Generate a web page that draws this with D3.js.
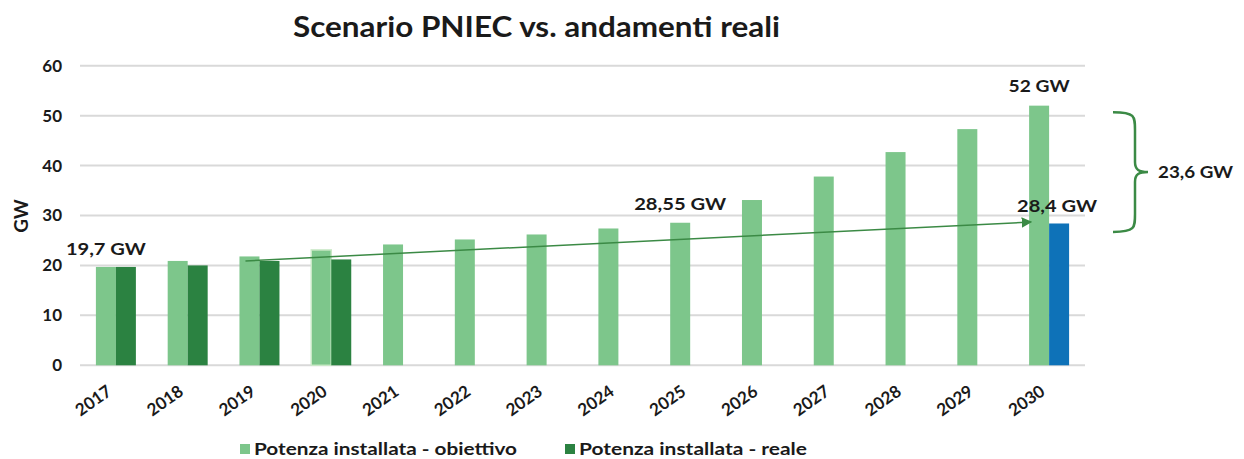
<!DOCTYPE html>
<html><head><meta charset="utf-8">
<script src="https://cdn.jsdelivr.net/npm/d3@7"></script>
<style>
html,body{margin:0;padding:0;background:#fff;}
svg{display:block;font-family:Lato,"Open Sans",sans-serif;}
</style></head>
<body>
<svg id="chart" width="1244" height="459"></svg>
<script>
const years = ["2017","2018","2019","2020","2021","2022","2023","2024","2025","2026","2027","2028","2029","2030"];
const target = [19.7, 20.9, 21.8, 23.1, 24.2, 25.2, 26.2, 27.4, 28.55, 33.1, 37.8, 42.7, 47.3, 52];
const real = [19.7, 20.0, 20.9, 21.2, null, null, null, null, null, null, null, null, null, null];
const trend2030 = [null, null, null, null, null, null, null, null, null, null, null, null, null, 28.4];
const yTicks = [0, 10, 20, 30, 40, 50, 60];
const seriesNames = ["Potenza installata - obiettivo", "Potenza installata - reale"];
const title = "Scenario PNIEC vs. andamenti reali";

const C_LIGHT = "#7dc68b", C_DARK = "#2b8241", C_BLUE = "#0e72b8", C_ANN = "#3b8a45", TXT = "#1a1a1a";

const svg = d3.select("#chart");
const x = d3.scaleBand().domain(years).range([80, 1085]).paddingInner(0).paddingOuter(0);
const x1 = d3.scaleBand().domain(["t","r"]).range([0, x.bandwidth()]).paddingInner(0).paddingOuter(0.795);
const y = d3.scaleLinear().domain([0, 60]).range([365.3, 65.7]);

// title
svg.append("text").attr("x", 293).attr("y", 37).attr("font-size", 29).attr("font-weight", 700)
  .attr("fill", TXT).attr("textLength", 487).attr("lengthAdjust", "spacingAndGlyphs").text(title);

// gridlines
svg.append("g").selectAll("line").data(yTicks).join("line")
  .attr("x1", 80).attr("x2", 1085).attr("y1", d => y(d)).attr("y2", d => y(d))
  .attr("stroke", "#d9d9d9").attr("stroke-width", 2);

// y axis labels
const yAxis = d3.axisLeft(y).tickValues(yTicks).tickSize(0).tickPadding(0).tickFormat(d3.format("d"));
const ga = svg.append("g").attr("transform", "translate(62,0)").call(yAxis);
ga.select(".domain").remove();
ga.selectAll("text").attr("font-size", 17).attr("font-weight", 700).attr("fill", TXT)
  .attr("font-family", "Lato, sans-serif");

svg.append("text").attr("transform", `translate(28,${y(30) + 0.5}) rotate(-90)`)
  .attr("text-anchor", "middle").attr("font-size", 19).attr("font-weight", 700).attr("fill", TXT).text("GW");

// bars
const bars = svg.append("g");
bars.selectAll(".t").data(years.map((d, i) => ({ year: d, v: target[i] }))).join("rect")
  .attr("x", d => x(d.year) + x1("t")).attr("width", x1.bandwidth())
  .attr("y", d => y(d.v)).attr("height", d => y(0) - y(d.v))
  .attr("fill", C_LIGHT)
  .attr("stroke", d => d.year === "2020" ? "#c9e8c6" : "none").attr("stroke-width", 1.5);
bars.selectAll(".r").data(years.map((d, i) => ({ year: d, v: real[i] })).filter(d => d.v != null)).join("rect")
  .attr("x", d => x(d.year) + x1("r")).attr("width", x1.bandwidth())
  .attr("y", d => y(d.v)).attr("height", d => y(0) - y(d.v)).attr("fill", C_DARK);
bars.selectAll(".b").data(years.map((d, i) => ({ year: d, v: trend2030[i] })).filter(d => d.v != null)).join("rect")
  .attr("x", d => x(d.year) + x1("r")).attr("width", x1.bandwidth())
  .attr("y", d => y(d.v)).attr("height", d => y(0) - y(d.v)).attr("fill", C_BLUE);

// x labels
svg.append("g").selectAll("text").data(years).join("text")
  .attr("transform", d => `translate(${x(d) + x.bandwidth() / 2 - 3},394) rotate(-35)`)
  .attr("text-anchor", "end").attr("font-size", 17).attr("font-weight", 700).attr("fill", TXT).text(d => d);

// arrow
const defs = svg.append("defs");
defs.append("marker").attr("id", "ah").attr("viewBox", "0 0 10 10").attr("refX", 9).attr("refY", 5)
  .attr("markerWidth", 7).attr("markerHeight", 7).attr("orient", "auto")
  .append("path").attr("d", "M0,0 L10,5 L0,10 z").attr("fill", C_ANN);
svg.append("line")
  .attr("x1", x("2019") + x1("t") + 6).attr("y1", y(20.9))
  .attr("x2", x("2030") + x1("t") + 2).attr("y2", y(28.7))
  .attr("stroke", C_ANN).attr("stroke-width", 1.5).attr("marker-end", "url(#ah)");

// brace
const bTop = y(50.7), bBot = y(26.7), bMid = (bTop + bBot) / 2, bx0 = 1113, bx1 = 1135, bx2 = 1148;
const brace = `M${bx0},${bTop} C${bx1},${bTop} ${bx1},${bTop + 4} ${bx1},${bTop + 18} L${bx1},${bMid - 10} C${bx1},${bMid - 2} ${bx1 + 4},${bMid} ${bx2},${bMid} ` +
  `C${bx1 + 4},${bMid} ${bx1},${bMid + 2} ${bx1},${bMid + 10} L${bx1},${bBot - 18} C${bx1},${bBot - 4} ${bx1},${bBot} ${bx0},${bBot}`;
svg.append("path").attr("d", brace).attr("fill", "none").attr("stroke", C_ANN).attr("stroke-width", 2.5);

// annotations
const ann = [
  { t: "19,7 GW", cx: x("2017") + x1("t") + x1.bandwidth() / 2, by: y(19.7) - 11.5, w: 80 },
  { t: "28,55 GW", cx: x("2025") + x1("t") + x1.bandwidth() / 2, by: y(28.55) - 12.5, w: 92 },
  { t: "52 GW", cx: x("2030") + x1("t") + x1.bandwidth() / 2, by: y(52) - 13.5, w: 61 },
  { t: "28,4 GW", cx: x("2030") + x1("r") + x1.bandwidth() / 2 - 2, by: y(28.4) - 11.5, w: 80 },
  { t: "23,6 GW", cx: 1195.5, by: y(37.6), w: 75 }
];
svg.append("g").selectAll("text").data(ann).join("text")
  .attr("x", d => d.cx).attr("y", d => d.by).attr("text-anchor", "middle")
  .attr("font-size", 17).attr("font-weight", 700).attr("fill", TXT)
  .attr("textLength", d => d.w).attr("lengthAdjust", "spacingAndGlyphs").text(d => d.t);

// legend
const leg = [{ n: seriesNames[0], c: C_LIGHT, x: 240, w: 263 }, { n: seriesNames[1], c: C_DARK, x: 565, w: 228 }];
const lg = svg.append("g").selectAll("g").data(leg).join("g");
lg.append("rect").attr("x", d => d.x).attr("y", 444).attr("width", 10).attr("height", 10).attr("fill", d => d.c);
lg.append("text").attr("x", d => d.x + 14).attr("y", 454.5).attr("font-size", 17).attr("font-weight", 700)
  .attr("fill", TXT).attr("textLength", d => d.w).attr("lengthAdjust", "spacingAndGlyphs").text(d => d.n);
</script>
</body></html>
